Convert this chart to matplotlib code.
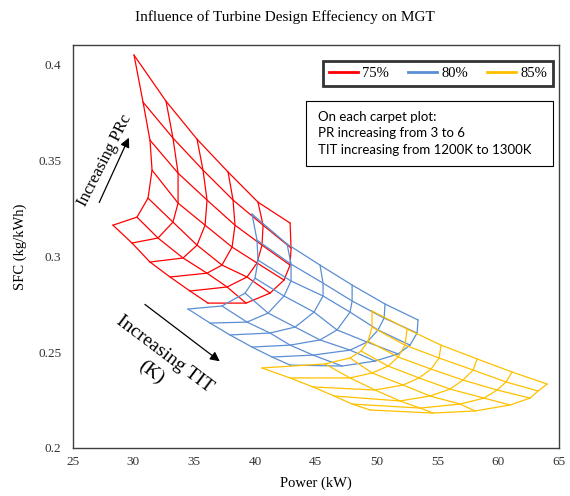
import numpy as np
import matplotlib
matplotlib.use("Agg")
import matplotlib.pyplot as plt
from matplotlib.lines import Line2D
from matplotlib.patches import Rectangle
from matplotlib.ticker import FuncFormatter

# carpet grids: rows = PR 3 -> 6, columns = TIT 1200K -> 1300K
pr_levels = [3.0, 3.5, 4.0, 4.5, 5.0, 5.5, 6.0]
tit_levels = [1200, 1220, 1240, 1260, 1280, 1300]
efficiencies = ["75%", "80%", "85%"]

power_75 = [
    [28.33, 29.89, 31.37, 33.02, 34.66, 36.14],
    [30.30, 32.03, 34.09, 36.06, 37.71, 39.27],
    [31.21, 33.26, 35.24, 37.29, 39.35, 41.24],
    [31.54, 33.68, 35.90, 38.12, 40.17, 42.39],
    [31.37, 33.68, 36.06, 38.36, 40.58, 42.89],
    [30.80, 33.26, 35.73, 38.20, 40.67, 42.97],
    [30.06, 32.69, 35.24, 37.79, 40.25, 42.89],
]
sfc_75 = [
    [0.3161, 0.3068, 0.2969, 0.2891, 0.2818, 0.2755],
    [0.3203, 0.3094, 0.2990, 0.2911, 0.2839, 0.2755],
    [0.3302, 0.3177, 0.3057, 0.2953, 0.2891, 0.2807],
    [0.3448, 0.3276, 0.3161, 0.3047, 0.2964, 0.2875],
    [0.3604, 0.3432, 0.3292, 0.3161, 0.3057, 0.2953],
    [0.3802, 0.3615, 0.3448, 0.3292, 0.3161, 0.3042],
    [0.4047, 0.3807, 0.3609, 0.3438, 0.3281, 0.3172],
]

power_80 = [
    [34.50, 36.31, 37.95, 39.76, 41.41, 42.89],
    [37.29, 39.35, 41.24, 42.89, 44.78, 47.16],
    [39.19, 41.08, 43.30, 45.35, 47.82, 49.88],
    [40.01, 42.39, 44.86, 46.75, 49.22, 51.77],
    [40.25, 42.97, 45.60, 47.82, 50.12, 52.75],
    [40.17, 42.97, 45.60, 47.99, 50.62, 53.33],
    [39.76, 42.64, 45.35, 47.99, 50.70, 53.41],
]
sfc_80 = [
    [0.2724, 0.2651, 0.2589, 0.2526, 0.2474, 0.2432],
    [0.2740, 0.2656, 0.2599, 0.2536, 0.2484, 0.2427],
    [0.2807, 0.2703, 0.2630, 0.2563, 0.2510, 0.2453],
    [0.2885, 0.2792, 0.2708, 0.2615, 0.2552, 0.2490],
    [0.2979, 0.2870, 0.2792, 0.2708, 0.2615, 0.2536],
    [0.3083, 0.2958, 0.2859, 0.2766, 0.2677, 0.2599],
    [0.3219, 0.3063, 0.2953, 0.2849, 0.2750, 0.2667],
]

power_85 = [
    [40.58, 42.89, 44.78, 46.50, 47.99, 49.47],
    [45.76, 47.82, 49.88, 51.93, 53.58, 54.65],
    [47.82, 49.63, 52.18, 54.40, 56.87, 58.10],
    [48.73, 50.95, 53.49, 56.04, 58.84, 60.98],
    [49.30, 51.77, 54.48, 57.11, 59.91, 62.62],
    [49.63, 52.34, 55.14, 57.94, 60.65, 63.28],
    [49.63, 52.51, 55.30, 58.27, 61.14, 64.02],
]
sfc_85 = [
    [0.2417, 0.2365, 0.2318, 0.2271, 0.2229, 0.2198],
    [0.2438, 0.2365, 0.2302, 0.2245, 0.2208, 0.2182],
    [0.2469, 0.2391, 0.2328, 0.2271, 0.2229, 0.2193],
    [0.2505, 0.2427, 0.2365, 0.2307, 0.2260, 0.2224],
    [0.2557, 0.2474, 0.2411, 0.2354, 0.2302, 0.2260],
    [0.2630, 0.2536, 0.2469, 0.2406, 0.2344, 0.2297],
    [0.2714, 0.2620, 0.2536, 0.2464, 0.2396, 0.2333],
]

colors = ["#FF0000", "#5B8ED3", "#FFC000"]
serif = "Liberation Serif"


def draw_carpet(ax, power, sfc, color):
    P = np.array(power)
    S = np.array(sfc)
    for i in range(P.shape[0]):  # constant PR lines
        ax.plot(P[i], S[i], color=color, lw=0.9)
    for j in range(P.shape[1]):  # constant TIT lines
        ax.plot(P[:, j], S[:, j], color=color, lw=0.9)


fig = plt.figure(figsize=(5.7, 4.96), dpi=100)
ax = fig.add_axes([0.1272, 0.0968, 0.8535, 0.8125])

draw_carpet(ax, power_75, sfc_75, colors[0])
draw_carpet(ax, power_80, sfc_80, colors[1])
draw_carpet(ax, power_85, sfc_85, colors[2])

ax.set_xlim(25, 65)
ax.set_ylim(0.2, 0.41)
ax.set_xticks(np.arange(25, 66, 5))
ax.set_yticks([0.2, 0.25, 0.3, 0.35, 0.4])
ax.yaxis.set_major_formatter(FuncFormatter(lambda v, p: f"{v:g}"))
ax.tick_params(length=0, labelsize=9.5, colors="#333333")
ax.tick_params(axis="y", pad=8)
ax.tick_params(axis="x", pad=6)
for lab in ax.get_xticklabels() + ax.get_yticklabels():
    lab.set_fontfamily(serif)
for sp in ax.spines.values():
    sp.set_color("#404040")
    sp.set_linewidth(1.0)

ax.set_xlabel("Power (kW)", fontfamily=serif, fontsize=10.5, labelpad=6)
ax.set_ylabel("SFC (kg/kWh)", fontfamily=serif, fontsize=10.5, labelpad=8)
fig.text(0.5, 0.965, "Influence of Turbine Design Effeciency on MGT",
         ha="center", va="center", fontfamily=serif, fontsize=11)

# legend box
handles = [Line2D([], [], color=c, lw=2) for c in colors]
leg = ax.legend(handles, efficiencies, ncol=3, loc="lower left",
                bbox_to_anchor=(0.515, 0.898, 0.473, 0.065), mode="expand",
                fancybox=False, borderaxespad=0, handlelength=2.0,
                handletextpad=0.3, columnspacing=1.2,
                prop={"family": serif, "size": 10.5})
leg.get_frame().set_edgecolor("black")
leg.get_frame().set_linewidth(2)

# note box
ax.add_patch(Rectangle((0.48, 0.700), 0.508, 0.161, transform=ax.transAxes,
                       fill=False, edgecolor="black", lw=0.8))
ax.text(0.504, 0.781,
        "On each carpet plot:\nPR increasing from 3 to 6\nTIT increasing from 1200K to 1300K",
        transform=ax.transAxes, ha="left", va="center", fontfamily="Lato",
        fontsize=9.5, linespacing=1.45)

# direction arrows
ax.annotate("", xy=(29.73, 0.3630), xytext=(27.10, 0.3266),
            arrowprops=dict(arrowstyle="-|>", color="black", lw=0.9,
                            mutation_scale=14))
ax.text(27.65, 0.3500, "Increasing PRc", rotation=63, rotation_mode="anchor",
        ha="center", va="center", fontfamily=serif, fontsize=12)

ax.annotate("", xy=(37.29, 0.2443), xytext=(30.77, 0.2757),
            arrowprops=dict(arrowstyle="-|>", color="black", lw=0.9,
                            mutation_scale=14))
ax.text(32.0, 0.2440, "Increasing TIT\n(K)", rotation=-37, rotation_mode="anchor",
        ha="center", va="center", multialignment="center",
        fontfamily=serif, fontsize=14, linespacing=1.45)

fig.savefig("out.png", dpi=100)
